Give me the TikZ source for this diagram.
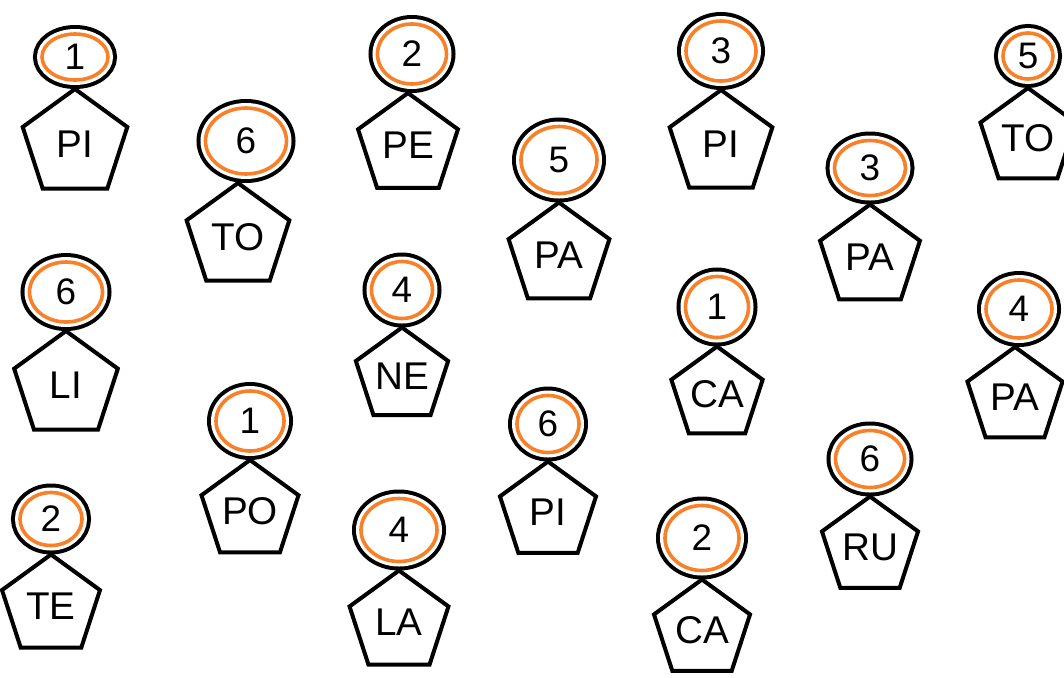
\documentclass[tikz,border=0pt]{standalone}
\usepackage{fontspec}
\setmainfont{Liberation Sans}
\usepackage{tikz}
\usetikzlibrary{positioning, shapes.geometric}
\definecolor{ringorange}{RGB}{247,128,40}
\tikzset{
    ring_style/.style={
        ellipse,                                   % number ring
        draw=ringorange,                           % inner orange line
        line width=0.36mm,
        fill=white,
        preaction={draw=black, line width=1.8mm},  % outer black line
        preaction={draw=white, line width=1.0mm},  % white gap
        inner sep=0pt,
        outer sep=0.9mm,                           % south anchor on the black edge
        font=\fontsize{10.5}{12}\selectfont
    },
    penta_style/.style={
        regular polygon,
        regular polygon sides=5,
        draw=black,
        line width=0.4mm,
        fill=white,
        inner sep=0pt,
        outer sep=0pt,
        font=\fontsize{11}{13}\selectfont
    }
}

\begin{document}
\begin{tikzpicture}[x=0.1mm, y=-0.1mm]
    \useasboundingbox (0,0) rectangle (1064,677);
    % 1. top row
    \node[ring_style, minimum width=6.6mm, minimum height=4.6mm] (r1) at (75,57) {1};
    \node[penta_style, minimum size=11.0mm, below=0pt of r1] (p1) {PI};
    \node[ring_style, minimum width=6.9mm, minimum height=6.0mm] (r3) at (412,54) {2};
    \node[penta_style, minimum size=10.5mm, below=0pt of r3, xshift=-0.4mm] (p3) {PE};
    \node[ring_style, minimum width=7.0mm, minimum height=6.0mm] (r5) at (721,51) {3};
    \node[penta_style, minimum size=10.8mm, below=0pt of r5] (p5) {PI};
    \node[ring_style, minimum width=5.0mm, minimum height=4.6mm] (r7) at (1028,56) {5};
    \node[penta_style, minimum size=10.0mm, below=0pt of r7] (p7) {TO};
    % 2. second row
    \node[ring_style, minimum width=8.1mm, minimum height=6.6mm] (r2) at (246,141) {6};
    \node[penta_style, minimum size=10.8mm, below=0pt of r2, xshift=-0.8mm] (p2) {TO};
    \node[ring_style, minimum width=7.6mm, minimum height=6.7mm] (r4) at (559,160) {5};
    \node[penta_style, minimum size=10.6mm, below=0pt of r4] (p4) {PA};
    \node[ring_style, minimum width=7.1mm, minimum height=5.5mm] (r6) at (870,168) {3};
    \node[penta_style, minimum size=10.5mm, below=0pt of r6] (p6) {PA};
    % 3. middle row
    \node[ring_style, minimum width=7.3mm, minimum height=6.0mm] (r8) at (66,292) {6};
    \node[penta_style, minimum size=10.9mm, below=0pt of r8] (p8) {LI};
    \node[ring_style, minimum width=6.1mm, minimum height=5.7mm] (r9) at (402,290) {4};
    \node[penta_style, minimum size=9.7mm, below=0pt of r9] (p9) {NE};
    \node[ring_style, minimum width=6.3mm, minimum height=6.1mm] (r10) at (717,307) {1};
    \node[penta_style, minimum size=9.6mm, below=0pt of r10] (p10) {CA};
    \node[ring_style, minimum width=6.6mm, minimum height=5.8mm] (r11) at (1019,309) {4};
    \node[penta_style, minimum size=10.0mm, below=0pt of r11, xshift=-0.4mm] (p11) {PA};
    % 4. lower rows
    \node[ring_style, minimum width=6.8mm, minimum height=6.0mm] (r12) at (250,421) {1};
    \node[penta_style, minimum size=10.2mm, below=0pt of r12] (p12) {PO};
    \node[ring_style, minimum width=6.2mm, minimum height=5.7mm] (r13) at (548,424) {6};
    \node[penta_style, minimum size=10.1mm, below=0pt of r13] (p13) {PI};
    \node[ring_style, minimum width=6.9mm, minimum height=5.7mm] (r14) at (870,459) {6};
    \node[penta_style, minimum size=10.1mm, below=0pt of r14] (p14) {RU};
    \node[ring_style, minimum width=6.2mm, minimum height=5.3mm] (r15) at (51,519) {2};
    \node[penta_style, minimum size=10.3mm, below=0pt of r15] (p15) {TE};
    \node[ring_style, minimum width=7.6mm, minimum height=6.3mm] (r16) at (399,530) {4};
    \node[penta_style, minimum size=10.4mm, below=0pt of r16] (p16) {LA};
    \node[ring_style, minimum width=7.4mm, minimum height=6.5mm] (r17) at (702,538) {2};
    \node[penta_style, minimum size=10.1mm, below=0pt of r17] (p17) {CA};
\end{tikzpicture}
\end{document}
